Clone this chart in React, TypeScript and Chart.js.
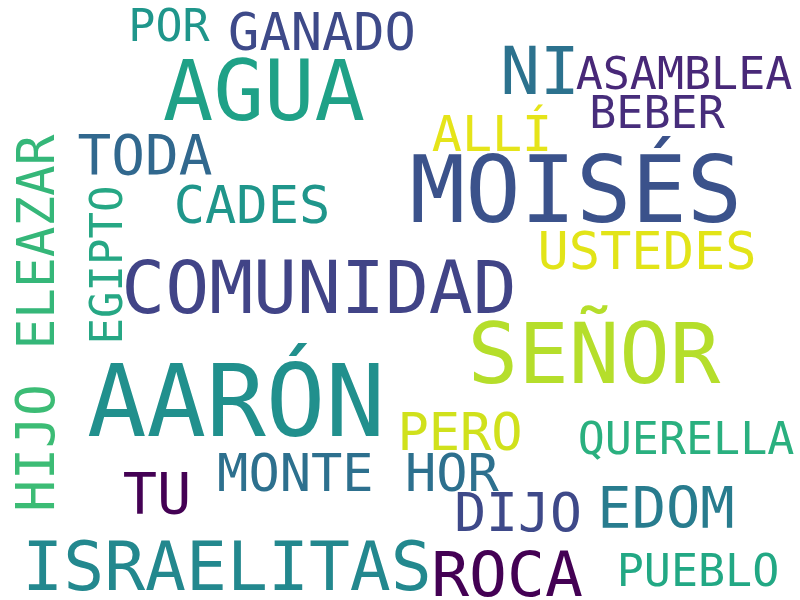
import { useEffect, useRef } from 'react';
import { Chart, registerables } from 'chart.js';

Chart.register(...registerables);

// word cloud: each word placed by its centre, in an 800x600 space
const words = ['POR', 'GANADO', 'AGUA', 'NI', 'ASAMBLEA', 'BEBER', 'ALLÍ', 'TODA', 'MOISÉS', 'CADES', 'USTEDES', 'ELEAZAR', 'EGIPTO', 'COMUNIDAD', 'SEÑOR', 'AARÓN', 'HIJO', 'PERO', 'QUERELLA', 'TU', 'MONTE HOR', 'DIJO', 'EDOM', 'ISRAELITAS', 'ROCA', 'PUEBLO'];
const centerX = [169, 322, 264, 540, 684, 657, 492, 145, 576, 252, 647, 35, 106, 319, 594, 236, 35, 460, 686, 157, 358, 518, 666, 227, 507, 698];
const centerY = [25, 31, 89, 70, 73, 112, 133, 154, 188, 204, 250, 242, 265, 286, 352, 400, 448, 431, 438, 493, 472, 512, 507, 565, 573, 570];
const sizes = [45, 52, 84, 66, 45, 45, 50, 56, 92, 52, 52, 51, 44, 73, 84, 99, 53, 52, 45, 57, 52, 53, 57, 68, 63, 45];
const colors = ['#1f968b', '#3e4a89', '#1fa187', '#2c728e', '#482878', '#472d7b', '#e5e419', '#31688e', '#3b528b', '#1f968b', '#e2e418', '#35b779', '#26a784', '#414487', '#b5de2b', '#21908d', '#3cbc75', '#d0e11c', '#2ab07f', '#440154', '#2d708e', '#3e4989', '#287c8e', '#23888e', '#440154', '#22a884'];
const vertical = [0, 0, 0, 0, 0, 0, 0, 0, 0, 0, 0, 1, 1, 0, 0, 0, 1, 0, 0, 0, 0, 0, 0, 0, 0, 0];

const wordPlugin = {
  id: 'words',
  afterDatasetsDraw(chart: Chart) {
    const { ctx } = chart;
    const xs = chart.scales.x;
    const ys = chart.scales.y;
    words.forEach((w, i) => {
      const px = xs.getPixelForValue(centerX[i]);
      const py = ys.getPixelForValue(centerY[i]);
      ctx.save();
      ctx.translate(px, py);
      if (vertical[i]) ctx.rotate(-Math.PI / 2);
      ctx.font = `${sizes[i]}px "DejaVu Sans Mono"`;
      ctx.fillStyle = colors[i];
      ctx.textAlign = 'center';
      ctx.textBaseline = 'alphabetic';
      ctx.fillText(w, 0, sizes[i] * 0.365);
      ctx.restore();
    });
  },
};

export default function App() {
  const canvasRef = useRef<HTMLCanvasElement>(null);

  useEffect(() => {
    if (!canvasRef.current) return;
    const chart = new Chart(canvasRef.current, {
      type: 'scatter',
      data: {
        datasets: [{ data: words.map((_, i) => ({ x: centerX[i], y: centerY[i] })), pointRadius: 0 }],
      },
      options: {
        responsive: false,
        animation: false,
        layout: { padding: 0 },
        plugins: { legend: { display: false }, tooltip: { enabled: false } },
        scales: {
          x: { display: false, min: 0, max: 800 },
          y: { display: false, min: 0, max: 600, reverse: true },
        },
      },
      plugins: [wordPlugin],
    });
    return () => chart.destroy();
  }, []);

  return (
    <div style={{ position: 'absolute', left: 0, top: 0, width: 800, height: 600, background: '#fff' }}>
      <canvas ref={canvasRef} width={800} height={600} />
    </div>
  );
}
